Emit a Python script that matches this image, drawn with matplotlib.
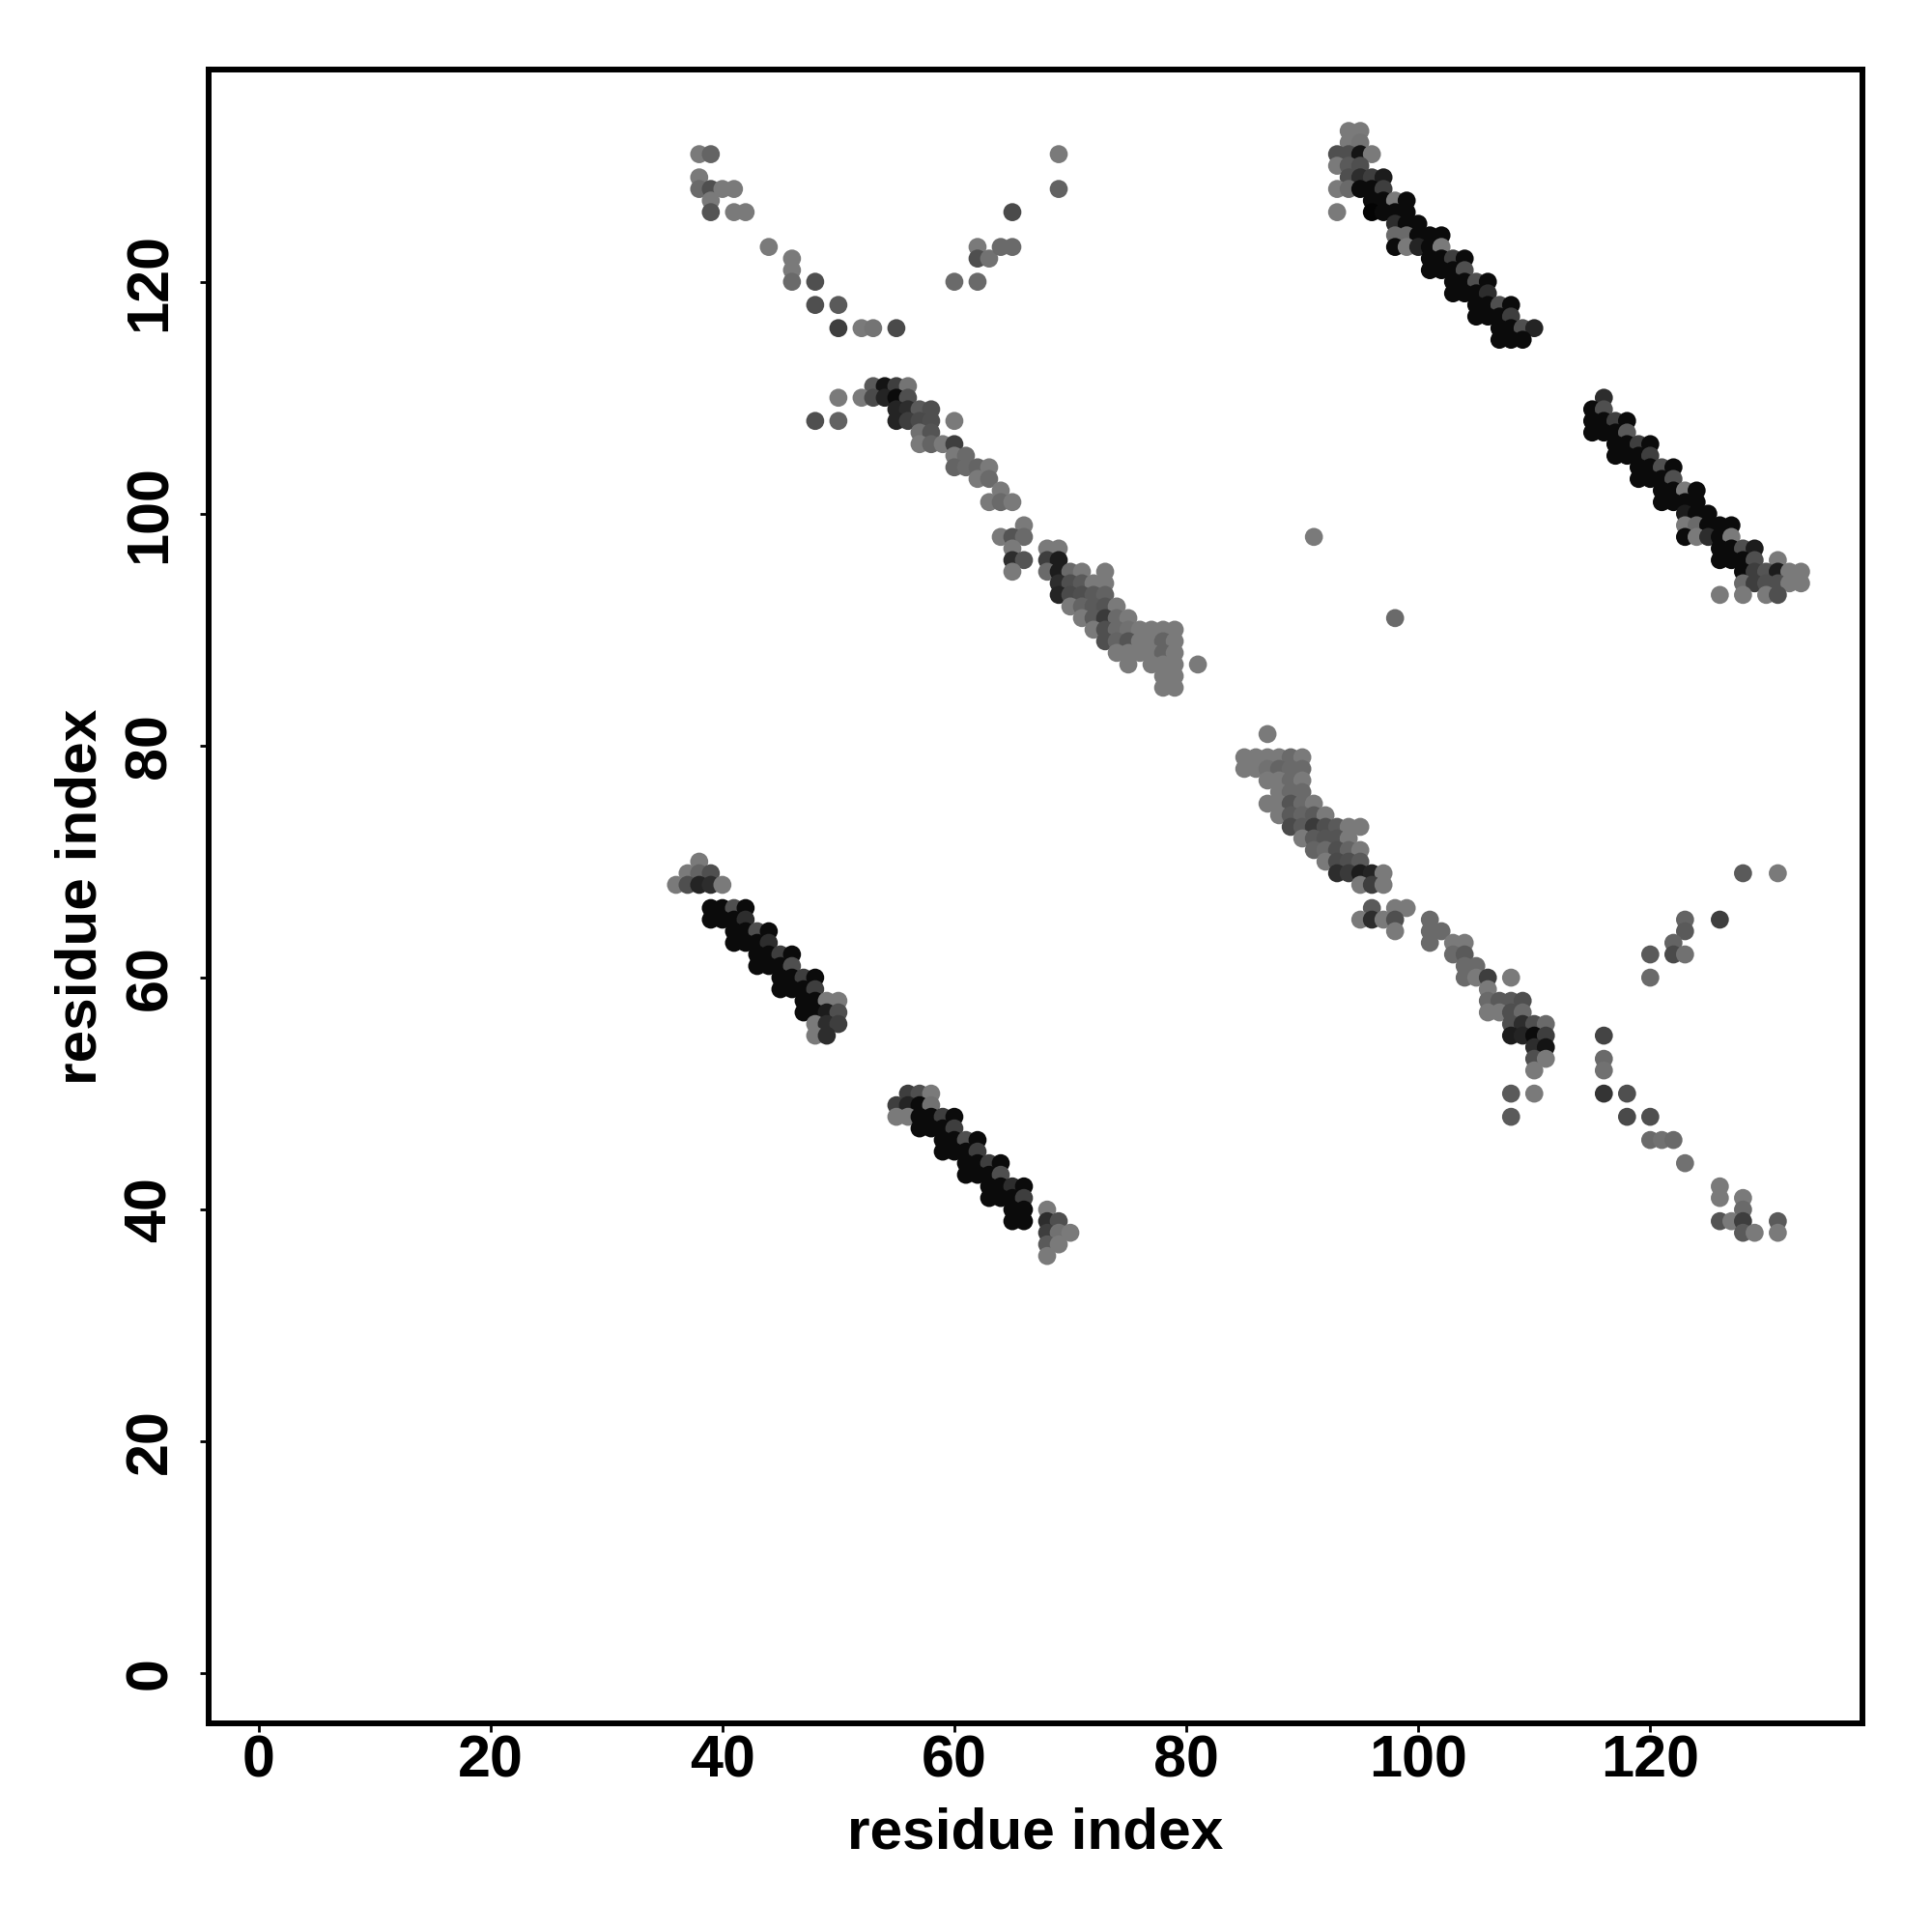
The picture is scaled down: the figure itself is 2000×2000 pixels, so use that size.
"""
Residue contact map, shaded by contact strength (darker = stronger).
"""
import numpy as np
import matplotlib
matplotlib.use('Agg')
import matplotlib.pyplot as plt

# (residue i, residue j, grey level 0-255) for each contact, grouped by block
block_a = [(38, 131, 0x80), (39, 131, 0x6a), (38, 129, 0x80), (38, 128, 0x70), (39, 128, 0x55),
           (40, 128, 0x80), (41, 128, 0x80), (39, 127, 0x80), (39, 126, 0x5a), (41, 126, 0x80),
           (42, 126, 0x80), (44, 123, 0x80), (46, 122, 0x80), (46, 121, 0x80), (46, 120, 0x70),
           (48, 120, 0x55), (48, 118, 0x55), (50, 118, 0x60), (50, 116, 0x44), (52, 116, 0x80),
           (53, 116, 0x7a), (55, 116, 0x50), (60, 120, 0x70), (62, 120, 0x70), (62, 123, 0x80),
           (62, 122, 0x55), (63, 122, 0x78), (64, 123, 0x70), (65, 123, 0x70), (65, 126, 0x50),
           (69, 131, 0x80), (69, 128, 0x68)]

block_b = [(53, 111, 0x60), (54, 111, 0x1a), (55, 111, 0x44), (56, 111, 0x7a),
           (50, 110, 0x80), (52, 110, 0x80), (53, 110, 0x50), (54, 110, 0x2a), (55, 110, 0x11), (56, 110, 0x55),
           (55, 109, 0x2a), (56, 109, 0x33), (57, 109, 0x60), (58, 109, 0x55),
           (48, 108, 0x55), (50, 108, 0x68), (55, 108, 0x2a), (56, 108, 0x44), (57, 108, 0x50), (58, 108, 0x55),
           (60, 108, 0x80), (57, 107, 0x77), (58, 107, 0x5a),
           (57, 106, 0x80), (58, 106, 0x6a), (59, 106, 0x80), (60, 106, 0x44),
           (60, 105, 0x80), (61, 105, 0x70),
           (60, 104, 0x6a), (61, 104, 0x70), (62, 104, 0x6a), (63, 104, 0x80),
           (62, 103, 0x80), (63, 103, 0x70), (64, 102, 0x80),
           (63, 101, 0x80), (64, 101, 0x70), (65, 101, 0x80), (66, 99, 0x80),
           (64, 98, 0x80), (65, 98, 0x5a), (66, 98, 0x70),
           (65, 97, 0x80), (68, 97, 0x80), (69, 97, 0x80),
           (65, 96, 0x33), (66, 96, 0x5a), (68, 96, 0x44), (69, 96, 0x22),
           (65, 95, 0x80), (68, 95, 0x70), (69, 95, 0x22), (70, 95, 0x70), (71, 95, 0x80), (73, 95, 0x80),
           (69, 94, 0x33), (70, 94, 0x55), (71, 94, 0x60), (72, 94, 0x80), (73, 94, 0x80),
           (69, 93, 0x2a), (70, 93, 0x50), (71, 93, 0x55), (72, 93, 0x60), (73, 93, 0x68),
           (70, 92, 0x80), (71, 92, 0x6a), (72, 92, 0x60), (73, 92, 0x5a), (74, 92, 0x80),
           (71, 91, 0x80), (72, 91, 0x60), (73, 91, 0x40), (74, 91, 0x70), (75, 91, 0x80),
           (72, 90, 0x80), (73, 90, 0x55), (74, 90, 0x70), (75, 90, 0x77), (76, 90, 0x80),
           (77, 90, 0x80), (78, 90, 0x80), (79, 90, 0x80),
           (73, 89, 0x55), (74, 89, 0x6a), (75, 89, 0x5a), (76, 89, 0x80), (77, 89, 0x80),
           (78, 89, 0x6a), (79, 89, 0x80),
           (74, 88, 0x80), (75, 88, 0x80), (76, 88, 0x80), (77, 88, 0x80), (78, 88, 0x6a), (79, 88, 0x80),
           (75, 87, 0x80), (77, 87, 0x80), (78, 87, 0x80), (79, 87, 0x80), (81, 87, 0x80),
           (78, 86, 0x80), (79, 86, 0x80), (78, 85, 0x80), (79, 85, 0x80)]

block_c = [(94, 133, 0x80), (95, 133, 0x80), (94, 132, 0x80), (95, 132, 0x7a),
           (93, 131, 0x55), (94, 131, 0x55), (95, 131, 0x1a), (96, 131, 0x80),
           (93, 130, 0x80), (94, 130, 0x60), (95, 130, 0x55),
           (94, 129, 0x55), (95, 129, 0x33), (96, 129, 0x44), (97, 129, 0x22),
           (93, 128, 0x80), (94, 128, 0x70), (95, 128, 0x11), (96, 128, 0x11), (97, 128, 0x44),
           (96, 127, 0x11), (97, 127, 0x11), (98, 127, 0x80), (99, 127, 0x11),
           (93, 126, 0x80), (96, 126, 0x0a), (97, 126, 0x11), (98, 126, 0x11), (99, 126, 0x11),
           (98, 125, 0x33), (99, 125, 0x11), (100, 125, 0x11),
           (98, 124, 0x70), (99, 124, 0x70), (100, 124, 0x11), (101, 124, 0x11), (102, 124, 0x11),
           (98, 123, 0x11), (99, 123, 0x80), (100, 123, 0x2a), (101, 123, 0x11), (102, 123, 0x80),
           (101, 122, 0x11), (102, 122, 0x11), (103, 122, 0x44), (104, 122, 0x11),
           (101, 121, 0x11), (102, 121, 0x11), (103, 121, 0x11), (104, 121, 0x55),
           (103, 120, 0x11), (104, 120, 0x11), (105, 120, 0x55), (106, 120, 0x11),
           (103, 119, 0x11), (104, 119, 0x11), (105, 119, 0x11), (106, 119, 0x33),
           (105, 118, 0x11), (106, 118, 0x11), (107, 118, 0x55), (108, 118, 0x11),
           (105, 117, 0x11), (106, 117, 0x11), (107, 117, 0x11), (108, 117, 0x44),
           (107, 116, 0x11), (108, 116, 0x11), (109, 116, 0x55), (110, 116, 0x2a),
           (107, 115, 0x11), (108, 115, 0x11), (109, 115, 0x11)]

block_d = [(116, 110, 0x33), (115, 109, 0x11), (116, 109, 0x55),
           (115, 108, 0x11), (116, 108, 0x11), (117, 108, 0x44), (118, 108, 0x11),
           (115, 107, 0x11), (116, 107, 0x11), (117, 107, 0x11), (118, 107, 0x60),
           (117, 106, 0x11), (118, 106, 0x11), (119, 106, 0x44), (120, 106, 0x11),
           (117, 105, 0x11), (118, 105, 0x11), (119, 105, 0x11), (120, 105, 0x44),
           (119, 104, 0x11), (120, 104, 0x11), (121, 104, 0x55), (122, 104, 0x11),
           (119, 103, 0x11), (120, 103, 0x11), (121, 103, 0x11), (122, 103, 0x55),
           (121, 102, 0x11), (122, 102, 0x11), (123, 102, 0x80), (124, 102, 0x11),
           (121, 101, 0x11), (122, 101, 0x11), (123, 101, 0x11), (124, 101, 0x11),
           (123, 100, 0x22), (124, 100, 0x11), (125, 100, 0x11),
           (123, 99, 0x80), (124, 99, 0x70), (125, 99, 0x11), (126, 99, 0x11), (127, 99, 0x11),
           (123, 98, 0x11), (124, 98, 0x80), (125, 98, 0x33), (126, 98, 0x11), (127, 98, 0x80),
           (126, 97, 0x11), (127, 97, 0x11), (128, 97, 0x55), (129, 97, 0x22),
           (126, 96, 0x11), (127, 96, 0x11), (128, 96, 0x11), (129, 96, 0x55), (131, 96, 0x80),
           (128, 95, 0x11), (129, 95, 0x44), (130, 95, 0x5a), (131, 95, 0x22), (132, 95, 0x80), (133, 95, 0x80),
           (128, 94, 0x70), (129, 94, 0x44), (130, 94, 0x55), (131, 94, 0x55), (132, 94, 0x80), (133, 94, 0x80),
           (126, 93, 0x80), (128, 93, 0x80), (130, 93, 0x80), (131, 93, 0x55)]

block_e = [(87, 81, 0x80),
           (85, 79, 0x80), (86, 79, 0x80), (87, 79, 0x80), (88, 79, 0x80), (89, 79, 0x70), (90, 79, 0x80),
           (85, 78, 0x80), (86, 78, 0x80), (87, 78, 0x77), (88, 78, 0x6a), (89, 78, 0x70), (90, 78, 0x70),
           (87, 77, 0x80), (88, 77, 0x80), (89, 77, 0x70), (90, 77, 0x80),
           (88, 76, 0x80), (89, 76, 0x70), (90, 76, 0x70),
           (87, 75, 0x80), (88, 75, 0x80), (89, 75, 0x5a), (90, 75, 0x70), (91, 75, 0x80),
           (88, 74, 0x80), (89, 74, 0x60), (90, 74, 0x6a), (91, 74, 0x60), (92, 74, 0x80),
           (89, 73, 0x50), (90, 73, 0x60), (91, 73, 0x40), (92, 73, 0x55), (93, 73, 0x60),
           (94, 73, 0x80), (95, 73, 0x80),
           (90, 72, 0x80), (91, 72, 0x60), (92, 72, 0x5a), (93, 72, 0x5a), (94, 72, 0x80),
           (91, 71, 0x6a), (92, 71, 0x70), (93, 71, 0x55), (94, 71, 0x6a), (95, 71, 0x80),
           (92, 70, 0x80), (93, 70, 0x50), (94, 70, 0x55), (95, 70, 0x60),
           (93, 69, 0x33), (94, 69, 0x40), (95, 69, 0x22), (96, 69, 0x2a), (97, 69, 0x80),
           (95, 68, 0x80), (96, 68, 0x44), (97, 68, 0x80),
           (96, 66, 0x60), (98, 66, 0x80), (99, 66, 0x80),
           (95, 65, 0x80), (96, 65, 0x33), (97, 65, 0x80), (98, 65, 0x55), (101, 65, 0x70),
           (98, 64, 0x80), (101, 64, 0x70), (102, 64, 0x70),
           (101, 63, 0x70), (103, 63, 0x80), (104, 63, 0x80),
           (103, 62, 0x70), (104, 62, 0x60), (104, 61, 0x70), (105, 61, 0x70),
           (104, 60, 0x70), (105, 60, 0x80), (106, 60, 0x44), (108, 60, 0x80), (106, 59, 0x80),
           (106, 58, 0x70), (107, 58, 0x60), (108, 58, 0x60), (109, 58, 0x55),
           (106, 57, 0x80), (107, 57, 0x80), (108, 57, 0x55), (109, 57, 0x70),
           (108, 56, 0x55), (109, 56, 0x33), (110, 56, 0x55), (111, 56, 0x70),
           (108, 55, 0x22), (109, 55, 0x2a), (110, 55, 0x11), (111, 55, 0x44),
           (110, 54, 0x33), (111, 54, 0x1a), (110, 53, 0x55), (111, 53, 0x80), (110, 52, 0x80),
           (108, 50, 0x60), (110, 50, 0x80), (108, 48, 0x60)]

block_f = [(128, 69, 0x60), (131, 69, 0x80), (123, 65, 0x6a), (126, 65, 0x44), (123, 64, 0x60),
           (122, 63, 0x6a), (120, 62, 0x60), (122, 62, 0x50), (123, 62, 0x77), (120, 60, 0x70),
           (116, 55, 0x4a), (116, 53, 0x70), (116, 52, 0x77), (116, 50, 0x3a), (118, 50, 0x55),
           (118, 48, 0x50), (120, 48, 0x55), (120, 46, 0x70), (121, 46, 0x77), (122, 46, 0x70),
           (123, 44, 0x77), (126, 42, 0x80), (126, 41, 0x80), (128, 41, 0x80), (128, 40, 0x70),
           (126, 39, 0x5a), (127, 39, 0x80), (128, 39, 0x44), (131, 39, 0x60),
           (128, 38, 0x60), (129, 38, 0x80), (131, 38, 0x80)]

block_g = [(38, 70, 0x80), (37, 69, 0x80), (38, 69, 0x6a), (39, 69, 0x55),
           (36, 68, 0x80), (37, 68, 0x55), (38, 68, 0x2a), (39, 68, 0x33), (40, 68, 0x80),
           (39, 66, 0x11), (40, 66, 0x11), (41, 66, 0x55), (42, 66, 0x11),
           (39, 65, 0x11), (40, 65, 0x11), (41, 65, 0x11), (42, 65, 0x33),
           (41, 64, 0x11), (42, 64, 0x11), (43, 64, 0x55), (44, 64, 0x11),
           (41, 63, 0x11), (42, 63, 0x11), (43, 63, 0x11), (44, 63, 0x33),
           (43, 62, 0x11), (44, 62, 0x11), (45, 62, 0x44), (46, 62, 0x11),
           (43, 61, 0x11), (44, 61, 0x11), (45, 61, 0x11), (46, 61, 0x55),
           (45, 60, 0x11), (46, 60, 0x11), (47, 60, 0x44), (48, 60, 0x11),
           (45, 59, 0x11), (46, 59, 0x11), (47, 59, 0x11), (48, 59, 0x44),
           (47, 58, 0x11), (48, 58, 0x11), (49, 58, 0x80), (50, 58, 0x80),
           (47, 57, 0x11), (48, 57, 0x11), (49, 57, 0x22), (50, 57, 0x55),
           (48, 56, 0x80), (49, 56, 0x33), (50, 56, 0x44), (48, 55, 0x80), (49, 55, 0x33)]

block_h = [(56, 50, 0x44), (57, 50, 0x55), (58, 50, 0x80),
           (55, 49, 0x44), (56, 49, 0x2a), (57, 49, 0x11), (58, 49, 0x77),
           (55, 48, 0x80), (56, 48, 0x80), (57, 48, 0x11), (58, 48, 0x11), (59, 48, 0x44), (60, 48, 0x11),
           (57, 47, 0x11), (58, 47, 0x11), (59, 47, 0x11), (60, 47, 0x44),
           (59, 46, 0x11), (60, 46, 0x11), (61, 46, 0x55), (62, 46, 0x11),
           (59, 45, 0x11), (60, 45, 0x11), (61, 45, 0x11), (62, 45, 0x44),
           (61, 44, 0x11), (62, 44, 0x11), (63, 44, 0x44), (64, 44, 0x11),
           (61, 43, 0x11), (62, 43, 0x11), (63, 43, 0x11), (64, 43, 0x55),
           (63, 42, 0x11), (64, 42, 0x11), (65, 42, 0x33), (66, 42, 0x11),
           (63, 41, 0x11), (64, 41, 0x11), (65, 41, 0x11), (66, 41, 0x44),
           (65, 40, 0x11), (66, 40, 0x11), (68, 40, 0x80),
           (65, 39, 0x11), (66, 39, 0x11), (68, 39, 0x33), (69, 39, 0x55),
           (68, 38, 0x44), (69, 38, 0x77), (70, 38, 0x80),
           (68, 37, 0x60), (69, 37, 0x80), (68, 36, 0x80)]

isolated = [(91, 98, 0x80), (98, 91, 0x70)]

BLOCKS = [block_a, block_b, block_c, block_d, block_e, block_f, block_g, block_h, isolated]
N_RES = (1, 133)
TICKS = [0, 20, 40, 60, 80, 100, 120]

plt.rcParams['font.family'] = ['Liberation Sans', 'DejaVu Sans']
plt.rcParams['font.weight'] = 'bold'

fig = plt.figure(figsize=(20, 20), dpi=100)
ax = fig.add_axes([0.1081, 0.1081, 0.9639 - 0.1081, 0.9639 - 0.1081])

for block in BLOCKS:
    arr = np.array(block)
    # slightly deeper black for the strongest contacts
    cols = []
    for g in arr[:, 2]:
        v = max(int(g) - 6, 0)
        cols.append('#%02x%02x%02x' % (v, v, v))
    ax.scatter(arr[:, 0], arr[:, 1], s=181, c=cols, linewidths=0, zorder=3)

# R-style 4% padding around data range
pad = 0.04 * (N_RES[1] - N_RES[0])
ax.set_xlim(N_RES[0] - pad, N_RES[1] + pad)
ax.set_ylim(N_RES[0] - pad, N_RES[1] + pad)
ax.set_xticks(TICKS); ax.set_yticks(TICKS)
for sp in ax.spines.values(): sp.set_linewidth(4.3)
ax.tick_params(axis='both', length=6.5, width=2, labelsize=44)
ax.tick_params(axis='x', pad=2)
ax.tick_params(axis='y', pad=16, labelrotation=90)
for lab in ax.get_yticklabels(): lab.set_va('center')

fig.text(0.536, 1 - 1913 / 2000, 'residue index', fontsize=43.5, fontweight='bold', ha='center', va='baseline')
fig.text(100 / 2000, 0.536, 'residue index', fontsize=43.5, fontweight='bold', rotation=90,
         rotation_mode='anchor', ha='center', va='baseline')

fig.savefig('out.png', dpi=100)
plt.close(fig)
